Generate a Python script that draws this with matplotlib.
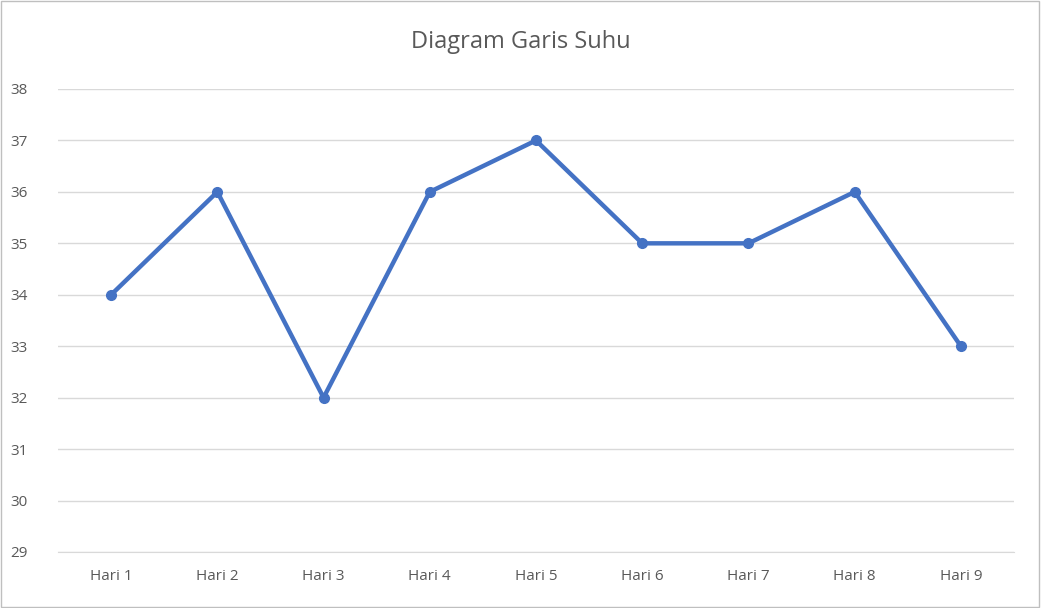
import matplotlib
matplotlib.use("Agg")
import matplotlib.pyplot as plt
from matplotlib.patches import Rectangle

plt.rcParams['font.family'] = ['Open Sans', 'DejaVu Sans']

categories = ["Hari 1", "Hari 2", "Hari 3", "Hari 4", "Hari 5", "Hari 6", "Hari 7", "Hari 8", "Hari 9"]
values = [34, 36, 32, 36, 37, 35, 35, 36, 33]
yticks = list(range(29, 39))

fig = plt.figure(figsize=(10.41, 6.08), dpi=100)
ax = fig.add_axes([58/1041, 1-552/608, (1014-58)/1041, (552-89)/608])
x = list(range(len(categories)))
ax.plot(x, values, color="#4472C4", linewidth=3.2, marker="o", markersize=7, solid_joinstyle="miter")
ax.set_xlim(-0.5, len(categories)-0.5)
ax.set_ylim(29, 38)
ax.set_yticks(yticks)
ax.set_xticks(x)
ax.set_xticklabels(categories)
ax.grid(axis="y", color="#D9D9D9", linewidth=1)
ax.set_axisbelow(True)
for s in ["top", "right", "left"]:
    ax.spines[s].set_visible(False)
ax.spines["bottom"].set_color("#D9D9D9")
ax.tick_params(axis="both", length=0, colors="#595959", labelsize=11, pad=12)
ax.tick_params(axis="y", pad=22)
fig.text(0.5, 1-42/608, "Diagram Garis Suhu", ha="center", va="center", fontsize=17, color="#595959")
fig.patches.append(Rectangle((0.001, 0.002), 0.997, 0.996, transform=fig.transFigure, fill=False, edgecolor="#BFBFBF", linewidth=1))
fig.savefig("out.png", dpi=100)
